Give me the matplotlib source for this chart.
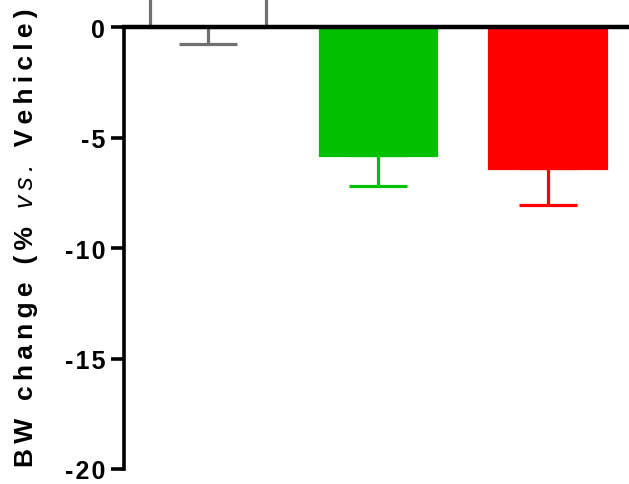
import matplotlib
matplotlib.use("Agg")
import matplotlib.pyplot as plt

# data (first bar runs off the top of the crop)
groups = ["Vehicle", "Low", "High"]
means = [1.5, -5.78, -6.39]
err_low = [2.27, 1.41, 1.68]
fill_colors = ["white", "#00C000", "#FF0000"]
edge_colors = ["#707070", "#00C000", "#FF0000"]
y_ticks = [0, -5, -10, -15, -20]

plt.rcParams["font.family"] = ["Liberation Sans", "DejaVu Sans"]

THIN = "\u2009"
HAIR = "\u200a"


def track(s, sp):
    # fake letter spacing
    return sp.join(s)


fig = plt.figure(figsize=(6.29, 4.85), dpi=100)
ax = fig.add_axes([124 / 629, 15 / 485, 1 - 124 / 629, 470 / 485])

x = list(range(len(groups)))
for i in x:
    ax.errorbar(i, means[i], yerr=[[err_low[i]], [0]], fmt="none",
                ecolor=edge_colors[i], elinewidth=2.3, capsize=21,
                capthick=2.3, zorder=1)
ax.bar(x, means, width=0.685, color=fill_colors, edgecolor=edge_colors,
       linewidth=2.3, zorder=2)

ax.set_xlim(-0.496, 2.48)
ax.set_ylim(-20, 1.267)

for s in ["top", "right"]:
    ax.spines[s].set_visible(False)
ax.spines["bottom"].set_position(("data", 0))
ax.spines["bottom"].set_linewidth(3.2)
ax.spines["bottom"].set_zorder(3)
ax.spines["left"].set_linewidth(2.6)
ax.spines["left"].set_bounds(-20, 0)
ax.set_xticks([])
ax.tick_params(axis="x", length=0)

ax.set_yticks(y_ticks)
ax.set_yticklabels([track(str(t), HAIR) for t in y_ticks], fontsize=18,
                   fontweight="bold")
ax.tick_params(axis="y", direction="out", length=9.5, width=2.6, pad=4)

# y label in pieces: bold / italic "vs." / bold, stacked bottom to top
pieces = [("BW change (% ", "bold", "normal"),
          ("vs.", "normal", "italic"),
          (" Vehicle)", "bold", "normal")]
fig.canvas.draw()
r = fig.canvas.get_renderer()
y0 = 485 - 467  # pixels from the bottom
for txt, w, st in pieces:
    s = track(txt, THIN)
    t = fig.text(33 / 629, y0 / 485, s, rotation=90, rotation_mode="anchor",
                 ha="left", va="baseline", fontsize=19, fontweight=w,
                 fontstyle=st)
    y0 += t.get_window_extent(r).height + 5

fig.savefig("out.png", dpi=100)
